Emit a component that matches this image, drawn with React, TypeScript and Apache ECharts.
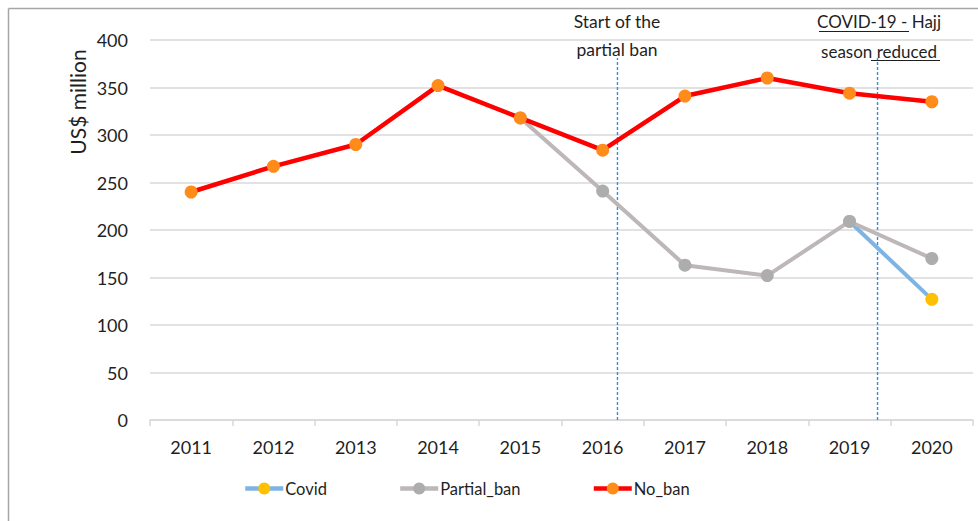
import React, { useEffect, useRef } from "react";
import * as echarts from "echarts";

const years = ["2011", "2012", "2013", "2014", "2015", "2016", "2017", "2018", "2019", "2020"];
const noBan = [240, 267, 290, 352, 318, 284, 341, 360, 344, 335];
const partialBan = [null, null, null, null, 318, 241, 163, 152, 209, 170];
const covid = [null, null, null, null, null, null, null, null, 209, 127];
const yTicks = { min: 0, max: 400, interval: 50 };
// vertical event markers, in category-index units, and their top value
const markerPositions = [5.18, 8.34];
const markerTop = 381;

const FONT = "Lato, 'Noto Sans', sans-serif";
const TXT = "#1f1f1f";

export default function App() {
  const ref = useRef<HTMLDivElement>(null);
  useEffect(() => {
    if (!ref.current) return;
    const chart = echarts.init(ref.current, undefined, { renderer: "svg" });
    const markerSeries = markerPositions.map((p, i) => ({
      name: "marker" + i,
      type: "line",
      xAxisIndex: 1,
      yAxisIndex: 0,
      data: [
        [p, 0],
        [p, markerTop],
      ],
      symbol: "none",
      silent: true,
      z: 1,
      lineStyle: { color: "#2E8FE8", width: 1.4, type: [3, 2] },
    }));
    chart.setOption({
      animation: false,
      textStyle: { fontFamily: FONT },
      grid: { left: 150, right: 5, top: 40, bottom: 101, containLabel: false },
      xAxis: [
        {
          type: "category",
          data: years,
          boundaryGap: true,
          axisLine: { lineStyle: { color: "#D9D9D9", width: 1.5 } },
          axisTick: { show: true, length: 6, lineStyle: { color: "#D9D9D9", width: 1.5 } },
          axisLabel: { color: TXT, fontSize: 18, margin: 18, fontFamily: FONT },
          splitLine: { show: false },
        },
        {
          type: "value",
          min: -0.5,
          max: 9.5,
          show: false,
        },
      ],
      yAxis: {
        type: "value",
        min: yTicks.min,
        max: yTicks.max,
        interval: yTicks.interval,
        axisLine: { show: false },
        axisTick: { show: false },
        axisLabel: { color: TXT, fontSize: 18, margin: 22, fontFamily: FONT },
        splitLine: { lineStyle: { color: "#D9D9D9", width: 1.5 } },
      },
      legend: {
        data: ["Covid", "Partial_ban", "No_ban"],
        left: 243,
        top: 480,
        padding: 0,
        itemWidth: 38,
        itemHeight: 15,
        itemGap: 71,
        lineStyle: { width: 4.5 },
        textStyle: { color: TXT, fontSize: 16.5, fontFamily: FONT, padding: [0, 0, 0, -3] },
      },
      series: [
        ...markerSeries,
        {
          name: "Covid",
          type: "line",
          data: covid,
          symbol: "circle",
          symbolSize: 13,
          z: 2,
          lineStyle: { color: "#7EB4E3", width: 4 },
          itemStyle: { color: "#FFC000" },
        },
        {
          name: "Partial_ban",
          type: "line",
          data: partialBan,
          symbol: "circle",
          symbolSize: 13,
          z: 3,
          lineStyle: { color: "#BDB7B7", width: 4 },
          itemStyle: { color: "#ADADAD" },
        },
        {
          name: "No_ban",
          type: "line",
          data: noBan,
          symbol: "circle",
          symbolSize: 13,
          z: 4,
          lineStyle: { color: "#FF0000", width: 4.5 },
          itemStyle: { color: "#FF8C1A" },
        },
      ],
      graphic: [
        { type: "line", shape: { x1: 8.5, y1: 8.5, x2: 978, y2: 8.5 }, style: { stroke: "#A6A6A6", lineWidth: 1.5 } },
        { type: "line", shape: { x1: 8.5, y1: 8.5, x2: 8.5, y2: 521 }, style: { stroke: "#A6A6A6", lineWidth: 1.5 } },
        {
          type: "text",
          x: 77,
          y: 102,
          rotation: Math.PI / 2,
          style: { text: "US$ million", fontSize: 21, fontFamily: FONT, fill: TXT, align: "center", verticalAlign: "middle" },
        },
        {
          type: "text",
          x: 617,
          y: 21,
          style: { text: "Start of the", fontSize: 17.5, fontFamily: FONT, fill: TXT, align: "center", verticalAlign: "middle" },
        },
        {
          type: "text",
          x: 617,
          y: 49,
          style: { text: "partial ban", fontSize: 17.5, fontFamily: FONT, fill: TXT, align: "center", verticalAlign: "middle" },
        },
        {
          type: "text",
          x: 879,
          y: 21,
          style: { text: "COVID-19 - Hajj", fontSize: 17, fontFamily: FONT, fill: TXT, align: "center", verticalAlign: "middle" },
        },
        { type: "line", shape: { x1: 819, y1: 31.5, x2: 909, y2: 31.5 }, style: { stroke: TXT, lineWidth: 1 } },
        {
          type: "text",
          x: 879,
          y: 51,
          style: { text: "season reduced", fontSize: 17, fontFamily: FONT, fill: TXT, align: "center", verticalAlign: "middle" },
        },
        { type: "line", shape: { x1: 871, y1: 60.5, x2: 940, y2: 60.5 }, style: { stroke: TXT, lineWidth: 1 } },
      ],
    });
    return () => chart.dispose();
  }, []);
  return (
    <div
      ref={ref}
      style={{ position: "absolute", left: 0, top: 0, width: 978, height: 521, background: "#fff" }}
    />
  );
}
